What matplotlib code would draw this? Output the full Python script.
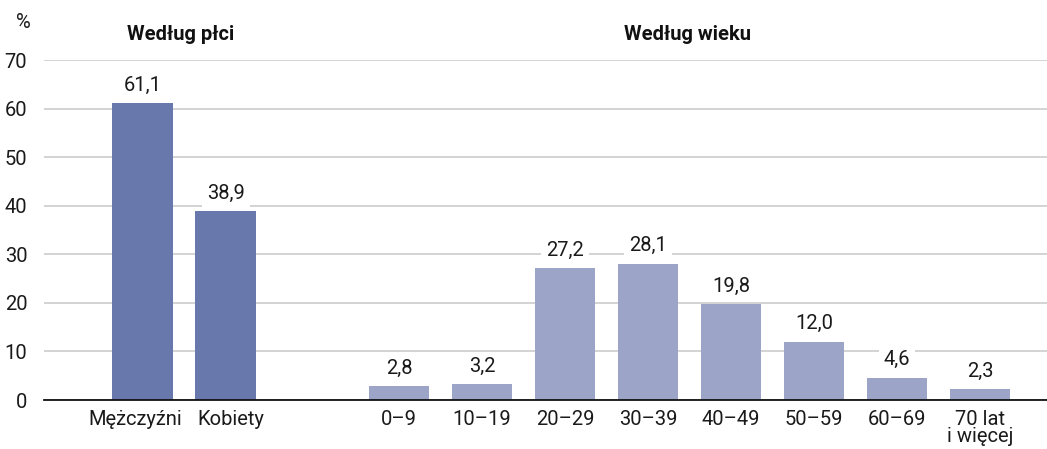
import matplotlib
matplotlib.use("Agg")
import matplotlib.pyplot as plt
import matplotlib.transforms as mtransforms
import numpy as np

plt.rcParams['font.family'] = ['Roboto', 'DejaVu Sans']

gender_labels = ["Mężczyźni", "Kobiety"]
gender_values = [61.1, 38.9]
age_labels = ["0–9", "10–19", "20–29", "30–39", "40–49", "50–59", "60–69", "70 lat\ni więcej"]
age_values = [2.8, 3.2, 27.2, 28.1, 19.8, 12.0, 4.6, 2.3]
group_titles = ["Według płci", "Według wieku"]
y_ticks = [0, 10, 20, 30, 40, 50, 60, 70]

dark = "#6878ad"
light = "#9ca5c8"
fs = 14.5

W, H = 1047, 449
fig = plt.figure(figsize=(W / 100, H / 100), dpi=100)
left, right, bottom, top = 44, 1047, 400, 60
ax = fig.add_axes([left / W, 1 - bottom / H, (right - left) / W, (bottom - top) / H])

gx = np.arange(len(gender_values), dtype=float)
ax_ = 3.09 + np.arange(len(age_values))
bw = 0.73

ax.bar(gx, gender_values, width=bw, color=dark, zorder=2)
ax.bar(ax_, age_values, width=bw, color=light, zorder=2)

for x, v in list(zip(gx, gender_values)) + list(zip(ax_, age_values)):
    ax.annotate(f"{v:.1f}".replace(".", ","), (x, v), xytext=(0, 6), textcoords="offset points",
                ha="center", va="bottom", fontsize=fs, color="#1a1a1a", zorder=3,
                bbox=dict(boxstyle="square,pad=0.25", fc="white", ec="none"))

ax.set_ylim(0, 70)
ax.set_xlim(-1.19, (right - 142.5) / 83.0)
ax.set_yticks(y_ticks)
ax.set_yticklabels([str(t) for t in y_ticks], fontsize=fs, color="#1a1a1a")
ax.set_xticks(list(gx) + list(ax_))
ax.set_xticklabels(gender_labels + age_labels, fontsize=fs, color="#1a1a1a", linespacing=0.9)
ax.tick_params(axis="both", length=0)
ax.tick_params(axis="y", pad=12)
ax.tick_params(axis="x", pad=7)
ax.grid(axis="y", color="#cccccc", linewidth=1.2, zorder=0)
for s in ["top", "right", "left"]:
    ax.spines[s].set_visible(False)
ax.spines["bottom"].set_color("#111111")
ax.spines["bottom"].set_linewidth(1.3)
ax.spines["bottom"].set_zorder(4)

# spread the two gender labels apart a little, as in the reference
xt = ax.get_xticklabels()
for lbl, dx in zip(xt[:2], [-7, 5]):
    lbl.set_transform(lbl.get_transform() + mtransforms.ScaledTranslation(dx / 100, 0, fig.dpi_scale_trans))

fig.text(23 / W, 1 - 22 / H, "%", ha="center", va="center", fontsize=fs, color="#1a1a1a")
fig.text(181 / W, 1 - 34 / H, group_titles[0], ha="center", va="center", fontsize=fs,
         fontweight="bold", color="#111111")
fig.text(687 / W, 1 - 34 / H, group_titles[1], ha="center", va="center", fontsize=fs,
         fontweight="bold", color="#111111")

fig.savefig("out.png", dpi=100, facecolor="white")
